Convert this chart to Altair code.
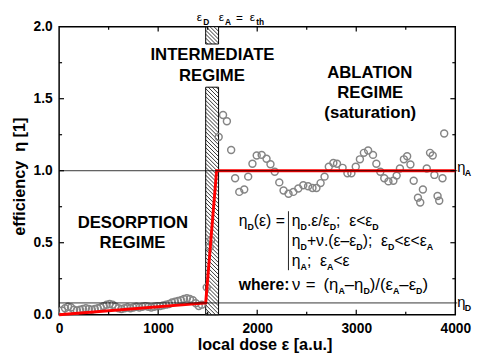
import altair as alt
import pandas as pd
import numpy as np

FONT = "Liberation Sans"
W, H = 403, 293
TOP = 24          # page y of plot top
BOT = TOP + H     # page y of plot bottom (317)
XMAX, YMAX = 4000, 2.0

# thresholds
eps_D, eps_A = 1480, 1610
eta_D, eta_A = 0.082, 1.0

# red model curve (vertices)
red_x = [0, 1480, 1590, 4000]
red_y = [0.0, 0.082, 1.0, 1.0]

# measured points: desorption regime
des_x = [30, 60, 90, 120, 150, 180, 210, 240, 270, 300, 330, 360, 390, 420, 450, 480,
         510, 540, 570, 600, 630, 660, 690, 720, 750, 780, 810, 840, 870, 900, 930, 960,
         990, 1020, 1050, 1080, 1110, 1140, 1170, 1200, 1230, 1260, 1290, 1320, 1350,
         1380, 1410, 1440]
des_y = [0.03, 0.045, 0.055, 0.05, 0.035, 0.03, 0.035, 0.04, 0.045, 0.04, 0.035, 0.04,
         0.045, 0.05, 0.06, 0.07, 0.075, 0.07, 0.055, 0.045, 0.04, 0.045, 0.05, 0.045,
         0.05, 0.055, 0.05, 0.055, 0.06, 0.055, 0.05, 0.055, 0.06, 0.06, 0.065, 0.07,
         0.075, 0.085, 0.09, 0.095, 0.10, 0.11, 0.115, 0.11, 0.10, 0.08, 0.06, 0.07]

# intermediate regime points
int_x = [1490, 1520, 1535]
int_y = [0.19, 0.47, 0.52]

# ablation regime points
abl_x = [1655, 1694, 1611, 1737, 1777, 1909, 1819, 1869, 1952, 1995, 2045, 2094, 2134,
         2177, 2223, 2266, 2316, 2365, 2415, 2465, 2514, 2558, 2598, 2640, 2680, 2723,
         2769, 2806, 2862, 2911, 2951, 2995, 3037, 3077, 3120, 3169, 3203, 3243, 3283,
         3325, 3375, 3408, 3441, 3481, 3514, 3547, 3580, 3623, 3646, 3673, 3712, 3745,
         3772, 3789, 3821, 3838, 3871, 3888]
abl_y = [1.387, 1.343, 1.234, 1.144, 0.948, 0.959, 0.853, 0.870, 1.049, 1.106, 1.110,
         1.083, 1.045, 0.993, 0.919, 0.863, 0.840, 0.853, 0.876, 0.899, 0.892, 0.880,
         0.880, 0.914, 0.959, 1.027, 1.054, 1.049, 1.020, 0.982, 0.982, 1.027, 1.079,
         1.124, 1.140, 1.110, 1.049, 0.993, 0.948, 0.926, 0.930, 0.966, 1.016, 1.079,
         1.101, 1.043, 0.930, 0.813, 0.779, 0.870, 1.016, 1.124, 1.106, 0.971, 0.824,
         0.791, 0.948, 1.259]

# hatched band pieces (gap behind the INTERMEDIATE label)
band_lo = [0.0, 1.88]
band_hi = [1.58, 2.0]

xt_major = [1000, 2000, 3000]
xt_minor = [500, 1500, 2500, 3500]
yt_major = [0.5, 1.0, 1.5]
yt_minor = [0.25, 0.75, 1.25, 1.75]
x_labels = [0, 1000, 2000, 3000, 4000]
y_labels = [0.0, 0.5, 1.0, 1.5, 2.0]

# ---------- helpers (page pixel -> data, for annotation placement) ----------
def PX(px):
    return (px - 60) * XMAX / W

def PY(py):
    return (BOT - py) * YMAX / H

xs = alt.Scale(domain=[0, XMAX], nice=False, zero=False)
ys = alt.Scale(domain=[0, YMAX], nice=False, zero=False)
xaxis = alt.Axis(values=x_labels, format="d", title=None, ticks=False, domain=False,
                 grid=False, labelFont=FONT, labelFontSize=14, labelFontWeight="bold",
                 labelColor="black", labelPadding=7, labelFlush=False)
yaxis = alt.Axis(values=y_labels, format=".1f", title=None, ticks=False, domain=False,
                 grid=False, labelFont=FONT, labelFontSize=14, labelFontWeight="bold",
                 labelColor="black", labelPadding=7)

def X(f="x"):
    return alt.X(f + ":Q", scale=xs, axis=xaxis)

def Y(f="y"):
    return alt.Y(f + ":Q", scale=ys, axis=yaxis)

# ---------- data frames ----------
pts = pd.DataFrame({"x": des_x + int_x + abl_x, "y": des_y + int_y + abl_y})
red = pd.DataFrame({"x": red_x, "y": red_y, "o": list(range(len(red_x)))})
band = pd.DataFrame({"x": [eps_D] * 2, "x2": [eps_A] * 2, "y": band_lo, "y2": band_hi})

kx = W / XMAX
ky = H / YMAX
drop = (eps_A - eps_D) * kx / ky
step = 4.0 / ky
hl = []
for lo, hi in zip(band_lo, band_hi):
    for c in np.arange(lo + step / 2, hi + drop, step):
        xa, ya, xb, yb = eps_D, c, eps_A, c - drop
        if ya > hi:
            t = (ya - hi) / drop
            xa = eps_D + t * (eps_A - eps_D)
            ya = hi
        if yb < lo:
            t = (c - lo) / drop
            xb = eps_D + t * (eps_A - eps_D)
            yb = lo
        if xb > xa:
            hl.append({"x": xa, "y": ya, "x2": xb, "y2": yb})
hatch = pd.DataFrame(hl)

levels = pd.DataFrame({"y": [eta_D, eta_A]})

# ---------- text layout ----------
REG = {' ': 278, '\u00a0': 278, '.': 278, ';': 278, ':': 278, '<': 584, '=': 584,
       '+': 584, '(': 333, ')': 333, '/': 278, '\u2013': 556, '\u03b5': 444,
       '\u03b7': 556, '\u03bd': 500}
BLD = {'D': 722, 'A': 722, 't': 333, 'h': 611, 'w': 778, 'e': 556, 'r': 389,
       ':': 333, ' ': 278, '\u00a0': 278}

def tw(s, table, size):
    return sum(table.get(c, 556) for c in s) * size / 1000.0

rows = []

def run(segs, x, base, size=16, sub=9):
    for txt, kind in segs:
        if kind == "s":
            rows.append(dict(t=txt, x=PX(x), y=PY(base + 4), g="sub"))
            x += tw(txt, BLD, sub)
        elif kind == "b":
            rows.append(dict(t=txt, x=PX(x), y=PY(base), g="b%d" % size))
            x += tw(txt, BLD, size)
        else:
            rows.append(dict(t=txt, x=PX(x), y=PY(base), g="m%d" % size))
            x += tw(txt, REG, size)

NB = "\u00a0"
E, ETA, NU, DASH = "\u03b5", "\u03b7", "\u03bd", "\u2013"
run([(ETA, "m"), ("D", "s"), ("(" + E + ")" + NB + "=", "m")], 242.7, 226.5)
run([(ETA, "m"), ("D", "s"), ("." + E + "/" + E, "m"), ("D", "s"),
     (";" + NB * 2 + E + "<" + E, "m"), ("D", "s")], 296.7, 226.5)
run([(ETA, "m"), ("D", "s"), ("+" + NU + ".(" + E + DASH + E, "m"), ("D", "s"),
     (");" + NB * 2 + E, "m"), ("D", "s"), ("<" + E + "<" + E, "m"), ("A", "s")],
    296.7, 246.8)
run([(ETA, "m"), ("A", "s"), (";" + NB * 2 + E, "m"), ("A", "s"), ("<" + E, "m")],
    296.7, 267.0)
run([("where:", "b")], 242.7, 291.7, size=16)
run([(NU, "m")], 297.0, 291.7, size=17)
run([("=", "m")], 311.0, 291.7, size=17)
run([("(" + ETA, "m"), ("A", "s"), (DASH + ETA, "m"), ("D", "s"), (")/(" + E, "m"),
     ("A", "s"), (DASH + E, "m"), ("D", "s"), (")", "m")], 329.0, 291.7, size=17)
# right-side level labels
rows += [dict(t=ETA, x=PX(465), y=PY(172), g="m15"),
         dict(t="A", x=PX(472.5), y=PY(176), g="sub"),
         dict(t=ETA, x=PX(465), y=PY(309), g="m15"),
         dict(t="D", x=PX(472.5), y=PY(313), g="sub")]
txt = pd.DataFrame(rows)

# top threshold labels (small, just above the frame)
top_main = pd.DataFrame([
    dict(t=E, x=PX(200), y=PY(18.5)),
    dict(t=E, x=PX(222.3), y=PY(18.5)),
    dict(t="=", x=PX(240), y=PY(18.8)),
    dict(t=E, x=PX(254), y=PY(18.5)),
])
top_sub = pd.DataFrame([
    dict(t="D", x=PX(206.5), y=PY(22.3)),
    dict(t="A", x=PX(228.8), y=PY(22.3)),
    dict(t="th", x=PX(260.5), y=PY(22.3)),
])

regions = pd.DataFrame([
    dict(t="INTERMEDIATE", x=PX(216), y=PY(58.3)),
    dict(t="REGIME", x=PX(215.5), y=PY(79)),
    dict(t="ABLATION", x=PX(376), y=PY(76)),
    dict(t="REGIME", x=PX(376.5), y=PY(96.7)),
    dict(t="(saturation)", x=PX(376.5), y=PY(117)),
    dict(t="DESORPTION", x=PX(135), y=PY(228.3)),
    dict(t="REGIME", x=PX(134.7), y=PY(249)),
])
xtitle = pd.DataFrame([dict(t="local dose " + E + " [a.u.]", x=PX(269.5), y=PY(353))])
ytitle = pd.DataFrame([dict(t="efficiency" + NB * 2 + ETA + " [1]", x=PX(25), y=PY(176.5))])
bar = pd.DataFrame([dict(x=PX(293.3), y=PY(211.7), y2=PY(271.7))])

# ---------- layers ----------
band_layer = alt.Chart(band).mark_rect(fill="white", stroke="black", strokeWidth=1).encode(
    x=X(), x2="x2:Q", y=Y(), y2="y2:Q")
hatch_layer = alt.Chart(hatch).mark_rule(color="black", strokeWidth=0.8).encode(
    x=X(), x2="x2:Q", y=Y(), y2="y2:Q")
pts_layer = alt.Chart(pts).mark_point(shape="circle", filled=False, stroke="#858585",
                                      strokeWidth=1.5, size=50, opacity=1).encode(x=X(), y=Y())
red_layer = alt.Chart(red).mark_line(color="#ff0000", strokeWidth=3).encode(
    x=X(), y=Y(), order="o:Q")
lvl_layer = alt.Chart(levels).mark_rule(color="black", strokeWidth=0.8).encode(
    y=Y(), x=alt.value(0), x2=alt.value(W + 2))
bar_layer = alt.Chart(bar).mark_rule(color="#222", strokeWidth=1).encode(
    x=X(), y=Y(), y2="y2:Q")

def ticks(vals, side, length):
    d = pd.DataFrame({"v": vals})
    m = alt.Chart(d).mark_rule(color="black", strokeWidth=1.2)
    if side == "bottom":
        return m.encode(x=X("v"), y=alt.value(H), y2=alt.value(H - length))
    if side == "top":
        return m.encode(x=X("v"), y=alt.value(0), y2=alt.value(length))
    if side == "left":
        return m.encode(y=Y("v"), x=alt.value(0), x2=alt.value(length))
    return m.encode(y=Y("v"), x=alt.value(W), x2=alt.value(W - length))

tick_layers = []
for side in ["bottom", "top"]:
    tick_layers += [ticks(xt_major, side, 5), ticks(xt_minor, side, 3)]
for side in ["left", "right"]:
    tick_layers += [ticks(yt_major, side, 5), ticks(yt_minor, side, 3)]

def tlayer(df, size, weight, align="left", angle=0):
    kw = dict(font=FONT, fontSize=size, fontWeight=weight, align=align,
              baseline="alphabetic", color="black")
    if angle:
        kw["angle"] = angle
    return alt.Chart(df).mark_text(**kw).encode(x=X(), y=Y(), text="t:N")

text_layers = []
for g, sub in txt.groupby("g"):
    if g == "sub":
        text_layers.append(tlayer(sub, 9, "bold"))
    elif g.startswith("b"):
        text_layers.append(tlayer(sub, int(g[1:]), "bold"))
    else:
        text_layers.append(tlayer(sub, int(g[1:]), "normal"))
text_layers.append(tlayer(top_main, 12, "normal"))
text_layers.append(tlayer(top_sub, 8.5, "bold"))
text_layers.append(tlayer(regions, 17, "bold", align="center"))
text_layers.append(tlayer(xtitle, 16.5, "bold", align="center"))
text_layers.append(tlayer(ytitle, 16.5, "bold", align="center", angle=270))

chart = alt.layer(
    band_layer, hatch_layer, pts_layer, red_layer, lvl_layer, bar_layer,
    *tick_layers, *text_layers
).properties(
    width=W, height=H,
    autosize=alt.AutoSizeParams(type="none"),
    padding={"left": 52, "top": TOP - 8, "right": 17, "bottom": 362 - 8 - BOT + 5},
    background="white",
).configure_view(stroke="black", strokeWidth=1.5)

chart.save("out.html", embed_options={"renderer": "svg", "actions": False})
